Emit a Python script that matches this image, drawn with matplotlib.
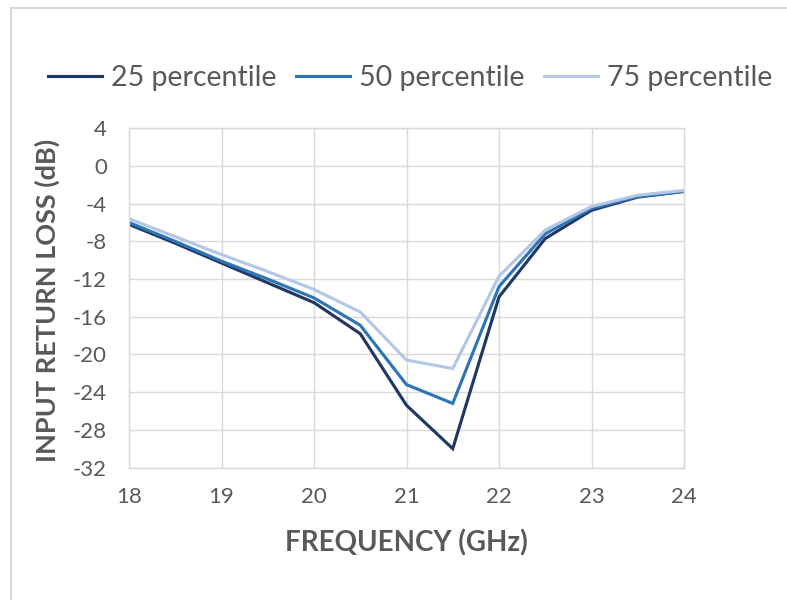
import matplotlib.pyplot as plt
from matplotlib.patches import Rectangle

# data
freq = [18, 18.5, 19, 19.5, 20, 20.5, 21, 21.5, 22, 22.5, 23, 23.5, 24]
p25 = [-6.2, -8.2, -10.3, -12.4, -14.5, -17.8, -25.4, -30.0, -13.9, -7.7, -4.7, -3.3, -2.7]
p50 = [-6.0, -8.0, -10.1, -12.0, -14.0, -16.9, -23.2, -25.2, -12.8, -7.2, -4.5, -3.25, -2.7]
p75 = [-5.6, -7.5, -9.4, -11.2, -13.1, -15.5, -20.6, -21.5, -11.7, -6.8, -4.3, -3.1, -2.6]
labels = ['25 percentile', '50 percentile', '75 percentile']
colors = ['#203864', '#2E75B6', '#B4C7E7']

plt.rcParams['font.family'] = ['Lato', 'DejaVu Sans']
plt.rcParams['axes.unicode_minus'] = False
gray = '#595959'

fig = plt.figure(figsize=(7.87, 6.0), dpi=100)
ax = fig.add_axes([129/787, 1 - 467.5/600, (684 - 129)/787, (467.5 - 128.3)/600])

for ys, lab, c in zip([p25, p50, p75], labels, colors):
    ax.plot(freq, ys, color=c, lw=2.25, label=lab, solid_joinstyle='miter')

ax.set_xlim(18, 24)
ax.set_ylim(-32, 4)
ax.set_xticks(range(18, 25))
ax.set_yticks(range(-32, 5, 4))
ax.grid(True, color='#D9D9D9', lw=1)
ax.set_axisbelow(True)
for s in ax.spines.values():
    s.set_color('#D9D9D9')
    s.set_linewidth(1)
ax.tick_params(length=0, labelsize=16, labelcolor=gray)
ax.tick_params(axis='x', pad=14)
ax.tick_params(axis='y', pad=16)

fig.text(406/787, 1 - 543/600, 'FREQUENCY (GHz)', ha='center', va='center',
         fontsize=20, fontweight='bold', color=gray)
fig.text(47/787, 1 - 300/600, 'INPUT RETURN LOSS (dB)', ha='center', va='center',
         rotation=90, fontsize=19.5, fontweight='bold', color=gray)

h, l = ax.get_legend_handles_labels()
leg = fig.legend(h, l, loc='center', bbox_to_anchor=(410/787, 1 - 78/600), ncol=3,
                 frameon=False, fontsize=20.5, handlelength=1.9, handletextpad=0.3,
                 columnspacing=0.7, borderpad=0)
for t in leg.get_texts():
    t.set_color(gray)

# outer chart border
fig.patches.append(Rectangle((11/787, -0.1), 1.2, 1.1 - 8/600, transform=fig.transFigure,
                             fill=False, edgecolor='#D9D9D9', lw=1.5))

fig.savefig('out.png', dpi=100)
